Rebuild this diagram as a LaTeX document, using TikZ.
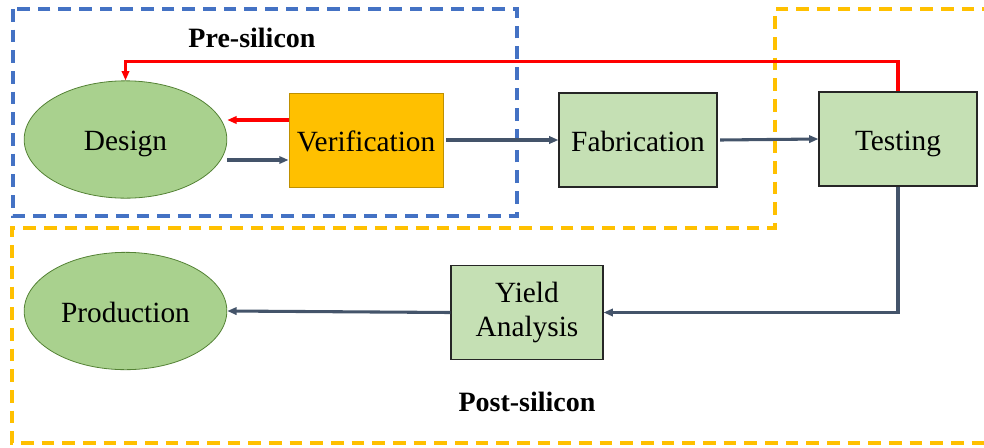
\documentclass[tikz,border=0pt]{standalone}
\usepackage{fontspec}
\setmainfont{Liberation Serif}
\usetikzlibrary{arrows.meta,calc,shapes.geometric}
\definecolor{ablue}{HTML}{4472C4}
\definecolor{aorange}{HTML}{FFC000}
\definecolor{ared}{HTML}{FF0000}
\definecolor{adark}{HTML}{44546A}
\definecolor{egreen}{HTML}{A9D18E}
\definecolor{eborder}{HTML}{548235}
\definecolor{bgreen}{HTML}{C5E0B4}
\definecolor{vborder}{HTML}{BF9000}
\tikzset{
  regionline/.style={line width=2.5pt, dash pattern=on 9.5pt off 6pt},
  onetext/.style={text height=19pt, text depth=2.5pt},
  ell/.style={ellipse, draw=eborder, line width=0.6pt, fill=egreen, minimum width=152pt, minimum height=88pt, inner sep=0pt, onetext, font=\fontsize{22}{26}\selectfont},
  boxg/.style={rectangle, draw=black!85, line width=0.8pt, fill=bgreen, minimum width=118.5pt, minimum height=70.5pt, inner sep=0pt, align=center, font=\fontsize{22}{26}\selectfont},
  boxv/.style={rectangle, draw=vborder, line width=0.6pt, fill=aorange, minimum width=115.5pt, minimum height=70.5pt, inner sep=0pt, onetext, font=\fontsize{22}{26}\selectfont},
  darr/.style={draw=adark, line width=2.3pt, -{Triangle[length=7pt,width=5.5pt]}},
  rarr/.style={draw=ared, line width=2.3pt, -{Triangle[length=7pt,width=5.5pt]}},
  ttl/.style={font=\fontsize{21}{24}\selectfont\bfseries, inner sep=0pt}
}
\begin{document}
\begin{tikzpicture}[x=0.75pt,y=-0.75pt]
\clip (0,0) rectangle (984,447);
% regions
\draw[regionline, draw=ablue] (13,9) rectangle (517,216);
\draw[regionline, draw=aorange] (995,9) -- (775,9) -- (775,228) -- (12,228) -- (12,443) -- (995,443);
% titles
\node[ttl] (pre) at (252,38) {Pre-silicon};
\node[ttl] (post) at (527,402) {Post-silicon};
% nodes
\node[ell] (design) at (125.5,139.5) {Design};
\node[ell] (prod) at (125.5,311) {Production};
\node[boxv] (verif) at (366,140) {Verification};
\node[boxg, onetext] (fab) at (638,140) {Fabrication};
\node[boxg, onetext] (test) at (898,139) {Testing};
\node[boxg, minimum width=114pt, minimum height=71pt] (yield) at (527,312.5) {\raisebox{-1.5pt}{Yield}\\\raisebox{-1.5pt}{Analysis}};
% connectors
\draw[rarr] ([yshift=15pt]verif.west) -- ([yshift=15pt]verif.west -| design.east);
\draw[darr] ([yshift=-15pt]verif.west -| design.east) -- ([yshift=-15pt]verif.west);
\draw[darr] ([xshift=2pt]verif.east) -- (fab.west);
\draw[darr] ([xshift=2pt]fab.east) -- (test.west);
\draw[rarr] (test.north) -- ++(0,-30) -| (design.north);
\draw[darr] (test.south) |- (yield.east);
\draw[darr] (yield.west) -- (prod.east);
\end{tikzpicture}
\end{document}
